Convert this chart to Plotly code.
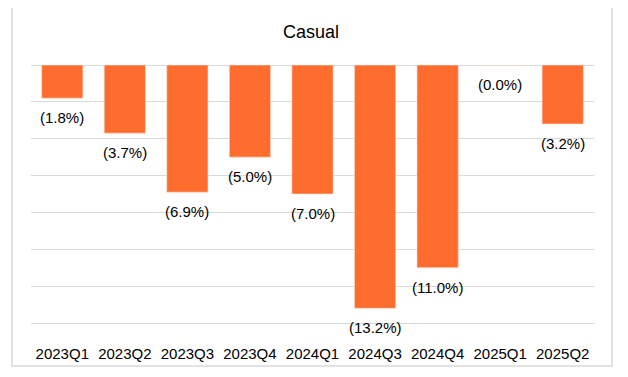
import plotly.graph_objects as go

categories = ["2023Q1", "2023Q2", "2023Q3", "2023Q4", "2024Q1", "2024Q3", "2024Q4", "2025Q1", "2025Q2"]
values = [-1.8, -3.7, -6.9, -5.0, -7.0, -13.2, -11.0, -0.02, -3.2]
labels = ["(1.8%)", "(3.7%)", "(6.9%)", "(5.0%)", "(7.0%)", "(13.2%)", "(11.0%)", "(0.0%)", "(3.2%)"]

# page has an 8px body margin; work in page pixels and convert
OFF = 8
W, H = 628 - OFF, 377 - OFF
plot_l, plot_r, plot_t, plot_b = 31, 594, 65, 327  # page px
px_per_unit = 258 / 14.0
y_min = -(plot_b - plot_t) / px_per_unit
ml, mr = plot_l - OFF, W - (plot_r - OFF)
mt, mb = plot_t - OFF, H - (plot_b - OFF)
pw, ph = W - ml - mr, H - mt - mb

def px_to_paper_x(x):
    return (x - OFF - ml) / pw

def px_to_paper_y(y):
    return (H - mb - (y - OFF)) / ph

FONT = "Liberation Sans, Arial, sans-serif"
TXT = "#000000"

fig = go.Figure(go.Bar(
    x=categories, y=values,
    marker=dict(color="#FF6D2E", line=dict(width=0.6, color="#FBE3DA")),
    hoverinfo="x+y",
))

for c, v, t in zip(categories, values, labels):
    fig.add_annotation(x=c, y=v, text=t, showarrow=False, yanchor="top", yshift=-9,
                       font=dict(size=15, color=TXT, family=FONT))

fig.update_layout(
    width=W, height=H,
    margin=dict(l=ml, r=mr, t=mt, b=mb),
    paper_bgcolor="white", plot_bgcolor="white",
    font=dict(family=FONT, color=TXT),
    title=dict(text="Casual", x=px_to_paper_x(311), xref="paper", xanchor="center",
               y=1 - (32 - OFF) / H, yanchor="middle",
               font=dict(size=18, color=TXT, family=FONT)),
    bargap=0.34,
    showlegend=False,
)
fig.update_xaxes(showgrid=False, showline=False, ticks="", tickangle=0, ticklabelstandoff=16,
                 tickfont=dict(size=15, color=TXT, family=FONT))
fig.update_yaxes(range=[y_min, 0], dtick=2, showticklabels=False, showgrid=True,
                 gridcolor="#d9d9d9", gridwidth=1, zeroline=True, zerolinecolor="#d9d9d9",
                 zerolinewidth=1, showline=False)

fig.add_shape(type="rect", xref="paper", yref="paper",
              x0=px_to_paper_x(12), x1=px_to_paper_x(612),
              y0=px_to_paper_y(366), y1=px_to_paper_y(7),
              line=dict(color="#d9d9d9", width=1.5), fillcolor="rgba(0,0,0,0)", layer="below")

fig.write_html("out.html")
